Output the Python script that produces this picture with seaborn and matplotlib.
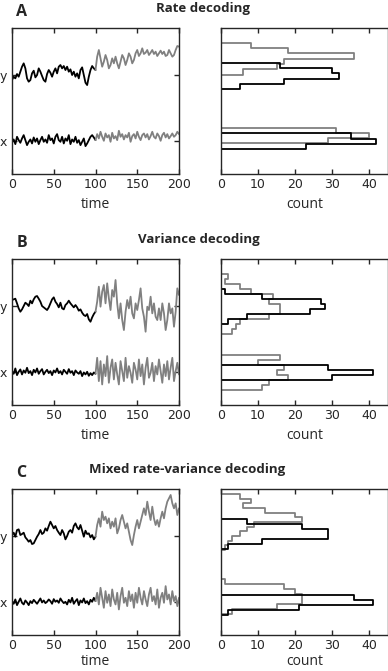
import matplotlib
matplotlib.use("Agg")
import matplotlib.pyplot as plt
import numpy as np
import pandas as pd
import seaborn as sns

# time grids (first half drawn black, second half grey)
t_first = np.arange(0, 101, 2)
t_second = np.arange(100, 201, 2)

# level of the "x" and "y" traces on the shared vertical axis
level_ticks = [97, 295]
level_labels = ["x", "y"]

# ---- A: rate decoding ----
a_y_black = [280, 290, 285, 298, 290, 305, 320, 330, 315, 285, 275, 280, 300, 308, 288, 295, 315,
             305, 292, 280, 275, 298, 310, 302, 290, 305, 315, 300, 320, 325, 315, 322, 310, 320,
             305, 312, 295, 305, 290, 300, 285, 310, 318, 295, 272, 265, 290, 310, 322, 315, 310]
a_y_gray = [310, 350, 370, 345, 320, 335, 355, 340, 315, 325, 345, 330, 350, 330, 315, 335, 355,
            345, 325, 340, 360, 350, 330, 340, 360, 370, 352, 360, 375, 358, 362, 370, 355, 362,
            370, 358, 365, 352, 360, 368, 358, 365, 352, 355, 370, 360, 350, 355, 370, 382, 380]
a_x_black = [95, 102, 88, 110, 100, 92, 105, 115, 100, 85, 95, 102, 90, 108, 95, 105, 88, 100,
             110, 95, 102, 92, 115, 100, 105, 90, 110, 118, 100, 95, 110, 90, 105, 98, 115, 88,
             102, 95, 110, 92, 100, 85, 95, 105, 82, 90, 100, 110, 115, 108, 100]
a_x_gray = [100, 118, 105, 125, 110, 98, 120, 108, 115, 95, 122, 105, 112, 100, 128, 110, 118,
            102, 115, 108, 122, 95, 112, 118, 105, 125, 110, 100, 115, 120, 108, 118, 102, 112,
            125, 110, 105, 120, 112, 98, 115, 122, 108, 118, 105, 112, 120, 110, 115, 125, 118]
a_hist_y_black_edges = [252, 268, 284, 300, 316, 332]
a_hist_y_black_counts = [5, 17, 32, 30, 16]
a_hist_y_gray_edges = [296, 312, 328, 344, 360, 376, 392]
a_hist_y_gray_counts = [6, 15, 17, 36, 18, 8]
a_hist_x_black_edges = [72, 88, 104, 120]
a_hist_x_black_counts = [23, 42, 35]
a_hist_x_gray_edges = [90, 105, 120, 135]
a_hist_x_gray_counts = [29, 40, 31]

# ---- B: variance decoding ----
b_y_black = [313, 315, 317, 303, 288, 278, 285, 295, 305, 301, 295, 311, 303, 315, 323, 325, 317,
             308, 295, 291, 287, 283, 291, 303, 315, 321, 308, 301, 291, 305, 288, 285, 298, 303,
             311, 303, 297, 291, 298, 291, 281, 285, 275, 268, 265, 271, 255, 248, 261, 271, 278]
b_y_gray = [278, 308, 353, 293, 338, 358, 303, 363, 318, 283, 343, 323, 373, 303, 258, 303, 253,
            223, 278, 313, 288, 323, 273, 258, 303, 283, 313, 348, 288, 263, 218, 293, 283, 323,
            273, 303, 263, 253, 288, 253, 303, 273, 223, 253, 303, 273, 288, 233, 278, 348, 328]
b_x_black = [100, 92, 108, 88, 98, 105, 90, 102, 95, 110, 94, 100, 88, 104, 96, 108, 92, 100,
             106, 90, 98, 104, 94, 100, 88, 102, 96, 108, 94, 100, 90, 104, 98, 92, 106, 95, 100,
             88, 102, 96, 92, 100, 85, 96, 90, 98, 86, 94, 88, 96, 92]
b_x_gray = [92, 140, 70, 130, 60, 120, 85, 145, 65, 110, 135, 75, 125, 90, 60, 130, 100, 70, 140,
            80, 115, 95, 65, 125, 105, 75, 135, 85, 120, 60, 110, 140, 80, 95, 125, 70, 115, 90,
            135, 100, 65, 120, 85, 130, 75, 110, 140, 70, 100, 125, 90]
b_hist_y_black_edges = [240, 255, 270, 285, 300, 315, 330, 345]
b_hist_y_black_counts = [2, 7, 24, 28, 27, 11, 1]
b_hist_y_gray_edges = [210, 225, 240, 255, 270, 285, 300, 315, 330, 345, 360, 375, 390]
b_hist_y_gray_counts = [3, 4, 5, 13, 16, 16, 13, 14, 8, 5, 1, 2]
b_hist_x_black_edges = [72, 87, 102, 117]
b_hist_x_black_counts = [30, 41, 29]
b_hist_x_gray_edges = [42, 57, 72, 87, 102, 117, 132, 147]
b_hist_x_gray_counts = [11, 13, 18, 15, 17, 10, 16]

# ---- C: mixed rate-variance decoding ----
c_y_black = [298, 305, 293, 313, 315, 298, 301, 305, 291, 285, 278, 283, 271, 273, 283, 293, 301,
             313, 301, 305, 318, 311, 325, 338, 328, 318, 325, 313, 305, 298, 313, 303, 285, 295,
             308, 313, 305, 325, 333, 321, 315, 328, 311, 293, 311, 301, 303, 291, 298, 285, 293]
c_y_gray = [293, 328, 348, 323, 368, 343, 353, 333, 348, 318, 338, 323, 348, 303, 318, 343, 358,
            338, 318, 333, 308, 283, 268, 298, 323, 343, 318, 338, 358, 378, 358, 398, 368, 343,
            383, 348, 328, 343, 323, 348, 368, 348, 378, 398, 408, 418, 393, 378, 393, 358, 378]
c_x_black = [100, 92, 105, 88, 98, 108, 95, 90, 102, 96, 88, 100, 94, 104, 98, 92, 100, 108, 96,
             102, 94, 98, 105, 100, 92, 106, 98, 102, 95, 108, 100, 94, 98, 90, 104, 96, 110, 92,
             100, 106, 88, 102, 96, 108, 94, 100, 90, 104, 98, 110, 100]
c_x_gray = [100, 125, 90, 140, 110, 80, 130, 95, 120, 85, 135, 105, 90, 125, 75, 115, 140, 95,
            110, 85, 130, 100, 120, 80, 125, 95, 140, 110, 90, 130, 105, 85, 120, 140, 100, 115,
            90, 135, 80, 110, 125, 95, 145, 105, 120, 90, 130, 100, 115, 85, 110]
c_hist_y_black_edges = [256, 271, 286, 301, 316, 331, 346]
c_hist_y_black_counts = [2, 11, 29, 29, 22, 7]
c_hist_y_gray_edges = [253, 267, 281, 295, 309, 323, 337, 351, 365, 379, 393, 407, 421]
c_hist_y_gray_counts = [1, 2, 3, 5, 7, 9, 22, 20, 12, 6, 8, 5]
c_hist_x_black_edges = [57, 72, 87, 102, 117]
c_hist_x_black_counts = [2, 21, 41, 36]
c_hist_x_gray_edges = [61, 76, 91, 106, 121, 136, 151, 166]
c_hist_x_gray_counts = [3, 15, 22, 22, 20, 17, 1]

rows = [
    dict(letter="A", title="Rate decoding",
         series=[(a_y_black, a_y_gray), (a_x_black, a_x_gray)],
         hists=[(a_hist_y_gray_edges, a_hist_y_gray_counts, "gray"),
                (a_hist_x_gray_edges, a_hist_x_gray_counts, "gray"),
                (a_hist_y_black_edges, a_hist_y_black_counts, "black"),
                (a_hist_x_black_edges, a_hist_x_black_counts, "black")]),
    dict(letter="B", title="Variance decoding",
         series=[(b_y_black, b_y_gray), (b_x_black, b_x_gray)],
         hists=[(b_hist_y_gray_edges, b_hist_y_gray_counts, "gray"),
                (b_hist_x_gray_edges, b_hist_x_gray_counts, "gray"),
                (b_hist_y_black_edges, b_hist_y_black_counts, "black"),
                (b_hist_x_black_edges, b_hist_x_black_counts, "black")]),
    dict(letter="C", title="Mixed rate-variance decoding",
         series=[(c_y_black, c_y_gray), (c_x_black, c_x_gray)],
         hists=[(c_hist_y_gray_edges, c_hist_y_gray_counts, "gray"),
                (c_hist_x_gray_edges, c_hist_x_gray_counts, "gray"),
                (c_hist_y_black_edges, c_hist_y_black_counts, "black"),
                (c_hist_x_black_edges, c_hist_x_black_counts, "black")]),
]

sns.set_style("ticks")
plt.rcParams["font.family"] = ["DejaVu Sans"]
plt.rcParams["axes.linewidth"] = 1.0

COLORS = {"black": "black", "gray": "0.5"}
W, H = 388, 671
LABEL_FONT = ["Open Sans", "DejaVu Sans"]

fig = plt.figure(figsize=(W / 100, H / 100), dpi=100)

# pixel layout: axes bottom edge, title centre, letter centre, x-label pad
row_bottoms = [173.5, 404.5, 634.5]
title_pos = [(203, 8.5), (199, 240), (187, 470)]
letter_pos = [(21.5, 12), (21.5, 243), (21, 473)]
label_pads = [4, 4, 1.5]
ax_h = 145.2

for row, bottom, (tx, ty), (lx, ly), lpad in zip(rows, row_bottoms, title_pos, letter_pos,
                                                  label_pads):
    ax_ts = fig.add_axes([12 / W, 1 - bottom / H, 167 / W, ax_h / H])
    ax_hist = fig.add_axes([221 / W, 1 - bottom / H, 166.6 / W, ax_h / H], sharey=ax_ts)

    for black_vals, gray_vals in row["series"]:
        sns.lineplot(x=t_first, y=black_vals, color=COLORS["black"], linewidth=1.3, ax=ax_ts)
        sns.lineplot(x=t_second, y=gray_vals, color=COLORS["gray"], linewidth=1.3, ax=ax_ts)

    for edges, counts, col in row["hists"]:
        centers = [(lo + hi) / 2 for lo, hi in zip(edges[:-1], edges[1:])]
        d = pd.DataFrame({"level": centers, "count": counts})
        sns.histplot(data=d, y="level", weights="count", bins=list(edges), element="step",
                     fill=True, color=COLORS[col], facecolor="none", edgecolor=COLORS[col],
                     linewidth=1.3, ax=ax_hist)

    ax_ts.set_xlim(0, 200)
    ax_ts.set_ylim(0, 435)
    ax_ts.set_xticks([0, 50, 100, 150, 200])
    ax_ts.set_yticks(level_ticks)
    ax_ts.set_yticklabels(level_labels)
    ax_ts.set_xlabel("time", family=LABEL_FONT, fontsize=10, labelpad=lpad)
    ax_ts.set_ylabel("")

    ax_hist.set_xlim(0, 45)
    ax_hist.set_xticks([0, 10, 20, 30, 40])
    ax_hist.set_xlabel("count", family=LABEL_FONT, fontsize=10, labelpad=lpad)
    ax_hist.set_ylabel("")
    ax_hist.tick_params(axis="y", left=False, right=False, labelleft=False)

    for ax in (ax_ts, ax_hist):
        for sp in ax.spines.values():
            sp.set_visible(True)
            sp.set_linewidth(1.0)
        ax.tick_params(direction="in", length=3.5, width=1.0, labelsize=9, top=True)
    ax_ts.tick_params(axis="y", right=True)

    fig.text(tx / W, 1 - ty / H, row["title"], ha="center", va="center",
             family=LABEL_FONT, fontweight="bold", fontsize=9.5)
    fig.text(lx / W, 1 - ly / H, row["letter"], ha="center", va="center",
             family=LABEL_FONT, fontweight="bold", fontsize=11.5)

fig.savefig("out.png", dpi=100)
